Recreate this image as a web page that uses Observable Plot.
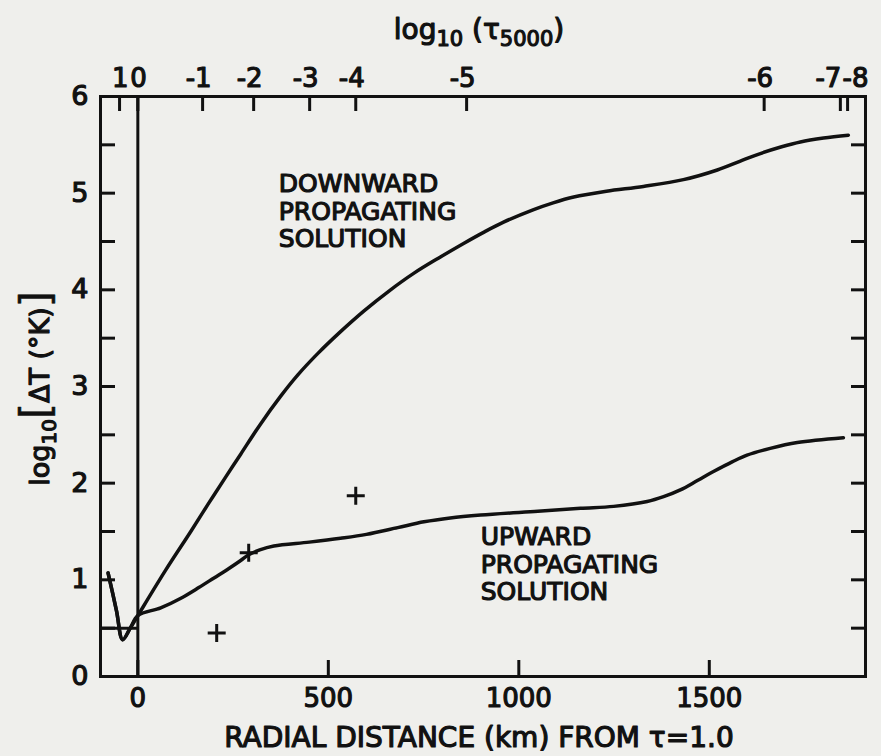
<!DOCTYPE html>
<html><head><meta charset="utf-8">
<script src="https://cdn.jsdelivr.net/npm/d3@7"></script>
<script src="https://cdn.jsdelivr.net/npm/@observablehq/plot@0.6"></script>
<style>html,body{margin:0;padding:0;background:#efefec;}</style>
</head><body><div id="chart"></div>
<script>
// Downward propagating solution: radial distance (km) and log10 ΔT
const downKm  = [-78, -56, -40, -20, 0, 73, 139, 184, 230, 270, 320, 375, 420, 472, 530, 593, 660, 724, 790, 855, 910, 960, 1039, 1090, 1144, 1230, 1327, 1432, 1521, 1580, 1634, 1690, 1739, 1800, 1865];
const downVal = [1.07, 0.68, 0.38, 0.50, 0.63, 1.10, 1.50, 1.78, 2.06, 2.30, 2.60, 2.90, 3.12, 3.34, 3.56, 3.78, 3.99, 4.17, 4.33, 4.48, 4.60, 4.70, 4.83, 4.90, 4.96, 5.02, 5.07, 5.14, 5.24, 5.33, 5.41, 5.48, 5.53, 5.57, 5.60];
// Upward propagating solution
const upKm  = [-78, -56, -40, -20, 0, 60, 113, 160, 200, 240, 270, 291, 320, 357, 450, 532, 600, 682, 751, 820, 900, 1050, 1162, 1249, 1337, 1380, 1424, 1470, 1511, 1560, 1599, 1660, 1731, 1852];
const upVal = [1.07, 0.68, 0.38, 0.50, 0.63, 0.71, 0.81, 0.92, 1.02, 1.12, 1.20, 1.26, 1.31, 1.35, 1.39, 1.43, 1.47, 1.54, 1.60, 1.64, 1.67, 1.71, 1.74, 1.76, 1.81, 1.86, 1.93, 2.03, 2.12, 2.22, 2.29, 2.36, 2.42, 2.47];
// "+" markers
const markerKm  = [207, 291, 572];
const markerVal = [0.45, 1.28, 1.87];
// Axis ticks
const xDomain = [-98, 1910];
const yDomain = [0, 6];
const xTicks = [0, 500, 1000, 1500];
const yMajorTicks = [0, 1, 2, 3, 4, 5, 6];
const yMinorTicks = [0.5, 1.5, 2.5, 3.5, 4.5, 5.5];
const yRightTicks = [0.5, 1, 1.5, 2, 2.5, 3, 3.5, 4, 4.5, 5, 5.5];
// Top axis: log10(tau5000) labels and their radial positions (km)
const tauLabels = ["1", "0", "-1", "-2", "-3", "-4", "-5", "-6", "-7", "-8"];
const tauKm     = [-48, 0, 170, 304, 451, 572, 863, 1644, 1844, 1863];
// Titles
const topTitle = "log₁₀ (τ₅₀₀₀)";
const xTitle = "RADIAL DISTANCE (km) FROM τ=1.0";
const yTitle = "log₁₀[ΔT (°K)]";
// Annotations
const annoText = ["DOWNWARD\nPROPAGATING\nSOLUTION", "UPWARD\nPROPAGATING\nSOLUTION"];
const annoKm   = [370, 900];
const annoVal  = [5.21, 1.56];

const down = downKm.map((k, i) => ({km: k, v: downVal[i]}));
const up = upKm.map((k, i) => ({km: k, v: upVal[i]}));
const markers = markerKm.map((k, i) => ({km: k, v: markerVal[i]}));
const taus = tauKm.map((k, i) => ({km: k, label: tauLabels[i]}));
const annos = annoKm.map((k, i) => ({km: k, v: annoVal[i], text: annoText[i]}));

const ink = "#111";
const tw = 1.2; // text stroke thickening
const plusSymbol = {draw(ctx, size) { const r = Math.sqrt(size / Math.PI); ctx.moveTo(-r, 0); ctx.lineTo(r, 0); ctx.moveTo(0, -r); ctx.lineTo(0, r); }};
const fmt = d => String(d);
const txt = {stroke: ink, strokeWidth: tw, fill: ink, paintOrder: "stroke"};

const chart = Plot.plot({
  width: 881, height: 756,
  marginLeft: 100, marginRight: 16, marginTop: 96, marginBottom: 80,
  style: {fontFamily: "DejaVu Sans", background: "#efefec", color: ink},
  x: {domain: xDomain},
  y: {domain: yDomain},
  marks: [
    Plot.frame({stroke: ink, strokeWidth: 3}),
    Plot.ruleX([0], {stroke: ink, strokeWidth: 3}),
    Plot.ruleY([0.5], {x1: xDomain[0], x2: 0, stroke: ink, strokeWidth: 3}),
    // left axis
    Plot.axisY({anchor: "left", ticks: yMajorTicks, tickFormat: fmt, tickSize: -15, tickPadding: 27, strokeWidth: 3, fontSize: 27, textStroke: ink, textStrokeWidth: tw, label: null}),
    Plot.axisY({anchor: "left", ticks: yMinorTicks, tickSize: -15, strokeWidth: 3, fill: "none", label: null}),
    // right axis
    Plot.axisY({anchor: "right", ticks: yRightTicks, tickSize: -15, strokeWidth: 3, fill: "none", label: null}),
    // bottom axis
    Plot.axisX({anchor: "bottom", ticks: xTicks, tickFormat: fmt, tickSize: -16, tickPadding: 28, strokeWidth: 3, fontSize: 26, textStroke: ink, textStrokeWidth: tw, label: null}),
    // top axis ticks (tau)
    Plot.axisX({anchor: "top", ticks: tauKm, tickSize: -14, strokeWidth: 3, fill: "none", label: null}),
    Plot.text(taus.filter(d => d.label !== "-7" && d.label !== "-8"), {x: "km", text: "label", frameAnchor: "top", dy: -18, dx: 9, textAnchor: "end", fontSize: 26, lineAnchor: "middle", ...txt}),
    Plot.text(taus.filter(d => d.label === "-7"), {x: "km", text: "label", frameAnchor: "top", dy: -18, dx: 1, textAnchor: "end", fontSize: 26, lineAnchor: "middle", ...txt}),
    Plot.text(taus.filter(d => d.label === "-8"), {x: "km", text: "label", frameAnchor: "top", dy: -18, dx: -5, textAnchor: "start", fontSize: 26, lineAnchor: "middle", ...txt}),
    // titles
    Plot.text([topTitle], {frameAnchor: "top", textAnchor: "middle", dy: -66, dx: -4, fontSize: 28, lineAnchor: "middle", ...txt}),
    Plot.text([xTitle], {frameAnchor: "bottom", textAnchor: "middle", dy: 62, dx: -4, fontSize: 28, lineAnchor: "middle", ...txt}),
    Plot.text([yTitle], {frameAnchor: "left", textAnchor: "middle", dx: -60, dy: 2, rotate: -90, fontSize: 27, lineAnchor: "middle", ...txt}),
    // curves
    Plot.line(down, {x: "km", y: "v", curve: "catmull-rom", stroke: ink, strokeWidth: 3.5}),
    Plot.line(up, {x: "km", y: "v", curve: "catmull-rom", stroke: ink, strokeWidth: 3.5}),
    Plot.dot(markers, {x: "km", y: "v", symbol: plusSymbol, r: 9, fill: "none", stroke: ink, strokeWidth: 3}),
    // annotations
    Plot.text(annos, {x: "km", y: "v", text: "text", textAnchor: "start", lineAnchor: "top", lineHeight: 1.1, fontSize: 25, ...txt})
  ]
});
document.getElementById("chart").appendChild(chart);

// Render Unicode subscripts as real lowered, smaller text; enlarge the brackets of the y title
const subMap = {"₀": "0", "₁": "1", "₅": "5"};
const NS = "http://www.w3.org/2000/svg";
chart.querySelectorAll("text").forEach(t => {
  const s = t.textContent;
  if (s !== topTitle && s !== yTitle) return;
  const fs = parseFloat(getComputedStyle(t).fontSize) || 26;
  const parts = [];
  let cur = "", curSub = false;
  for (const ch of s) {
    const isSub = ch in subMap;
    if (isSub !== curSub && cur) { parts.push([cur, curSub]); cur = ""; }
    curSub = isSub; cur += isSub ? subMap[ch] : ch;
  }
  if (cur) parts.push([cur, curSub]);
  while (t.firstChild) t.removeChild(t.firstChild);
  let shift = 0;
  const off = Math.round(fs * 0.25);
  for (const [p, sub] of parts) {
    const pieces = sub ? [p] : p.split(/([\[\]])/).filter(x => x);
    for (const q of pieces) {
      const sp = document.createElementNS(NS, "tspan");
      sp.textContent = q;
      const target = sub ? off : 0;
      if (target !== shift) { sp.setAttribute("dy", target - shift); shift = target; }
      if (sub) sp.setAttribute("font-size", Math.round(fs * 0.75));
      if (q === "[" || q === "]") { sp.setAttribute("font-size", Math.round(fs * 1.5)); sp.setAttribute("stroke-width", 0.6); }
      t.appendChild(sp);
    }
  }
});
</script>
</body></html>
